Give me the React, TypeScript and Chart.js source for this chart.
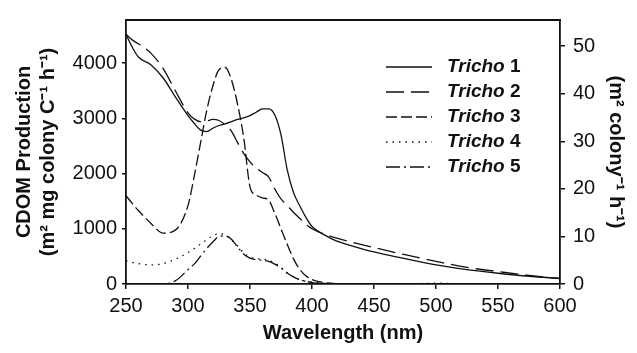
import React, { useEffect, useRef } from "react";
import { Chart, registerables } from "chart.js";

Chart.register(...registerables);

const wavelengths = [250, 255, 260, 270, 280, 290, 300, 305, 310, 315, 320, 325, 330, 335, 340, 345, 350, 355, 360, 365, 370, 375, 380, 385, 390, 395, 400, 410, 420, 430, 450, 475, 500, 525, 550, 575, 600];

const tricho1 = [4520, 4290, 4110, 3970, 3730, 3380, 3050, 2910, 2790, 2760, 2820, 2870, 2900, 2940, 2980, 3010, 3050, 3110, 3170, 3170, 3060, 2700, 2070, 1660, 1420, 1210, 1040, 890, 775, 705, 580, 460, 345, 260, 195, 140, 100];
const tricho2 = [4520, 4420, 4350, 4180, 3900, 3490, 3100, 2990, 2940, 2950, 2980, 2960, 2880, 2770, 2560, 2360, 2210, 2100, 2020, 1940, 1720, 1540, 1420, 1300, 1190, 1080, 1000, 900, 830, 770, 660, 530, 410, 300, 225, 155, 100];
const tricho3 = [1600, 1460, 1330, 1100, 920, 980, 1420, 1950, 2540, 3130, 3580, 3880, 3920, 3700, 3250, 2640, 1760, 1610, 1560, 1520, 1280, 1000, 720, 460, 270, 150, 80, 25, 5, 0, 0, 0, 0, 0, 0, 0, 0];
const tricho4 = [420, 390, 370, 345, 370, 450, 570, 640, 720, 800, 870, 910, 890, 800, 690, 560, 490, 460, 450, 430, 380, 300, 200, 130, 80, 50, 35, 15, 5, 0, 0, 0, 15, 0, 0, 0, 0];
const tricho5 = [0, 0, 0, 0, 0, 60, 260, 360, 500, 640, 760, 860, 870, 810, 670, 540, 470, 440, 430, 410, 360, 290, 200, 130, 80, 50, 25, 10, 0, 0, 0, 0, 0, 0, 0, 0, 0];

const seriesNames = ["1", "2", "3", "4", "5"];
const seriesValues = [tricho1, tricho2, tricho3, tricho4, tricho5];
const dashes: number[][] = [[], [18, 7], [11, 4], [1.5, 5], [14, 4, 2, 4]];

const leftTicks = [0, 1000, 2000, 3000, 4000];
const rightTicks = [0, 10, 20, 30, 40, 50];
const xTicks = [250, 300, 350, 400, 450, 500, 550, 600];

const FONT = "'Liberation Sans', Arial, Helvetica, sans-serif";
const INK = "#111";

const frameAndLegend = {
  id: "frameAndLegend",
  afterDatasetsDraw(chart: any) {
    const { ctx, chartArea } = chart;
    ctx.save();
    ctx.strokeStyle = INK;
    ctx.lineWidth = 1.8;
    ctx.beginPath();
    ctx.moveTo(chartArea.left - 0.9, chartArea.top);
    ctx.lineTo(chartArea.right + 0.9, chartArea.top);
    ctx.stroke();

    const x0 = 386;
    const x1 = 432;
    const tx = 447;
    seriesNames.forEach((n, i) => {
      const y = 67 + i * 25;
      ctx.setLineDash(dashes[i]);
      ctx.lineWidth = 1.3;
      ctx.beginPath();
      ctx.moveTo(x0, y);
      ctx.lineTo(x1, y);
      ctx.stroke();
      ctx.setLineDash([]);
      ctx.fillStyle = INK;
      ctx.textBaseline = "middle";
      ctx.textAlign = "left";
      ctx.font = `italic bold 19px ${FONT}`;
      ctx.fillText("Tricho", tx, y);
      const w = ctx.measureText("Tricho ").width;
      ctx.font = `bold 19px ${FONT}`;
      ctx.fillText(n, tx + w, y);
    });
    ctx.restore();
  },
};

const plain = (v: any) => String(v);

export default function App() {
  const ref = useRef<HTMLCanvasElement | null>(null);

  useEffect(() => {
    document.body.style.margin = "0";
    const canvas = ref.current;
    if (!canvas) return;
    const chart = new Chart(canvas, {
      type: "line",
      data: {
        datasets: seriesValues.map((vals, i) => ({
          label: "Tricho " + seriesNames[i],
          data: wavelengths.map((w, j) => ({ x: w, y: vals[j] })),
          borderColor: INK,
          borderWidth: 1.3,
          borderDash: dashes[i],
          pointRadius: 0,
          fill: false,
          cubicInterpolationMode: "monotone" as const,
          yAxisID: "y",
        })),
      },
      options: {
        animation: false,
        responsive: false,
        events: [],
        layout: { padding: { top: 12, left: 0, right: 0, bottom: 0 } },
        plugins: { legend: { display: false }, tooltip: { enabled: false } },
        scales: {
          x: {
            type: "linear",
            min: 250,
            max: 600,
            afterFit: (s: any) => { s.height = 69; },
            afterBuildTicks: (s: any) => { s.ticks = xTicks.map((v) => ({ value: v })); },
            ticks: { color: INK, font: { size: 20, family: FONT }, padding: 5, maxRotation: 0, callback: plain },
            grid: { drawOnChartArea: false, drawTicks: true, tickLength: 5, color: INK, lineWidth: 1.5 },
            border: { color: INK, width: 1.8 },
            title: { display: true, text: "Wavelength (nm)", color: INK, font: { size: 20, weight: "bold", family: FONT }, padding: { top: 0, bottom: 8 } },
          },
          y: {
            type: "linear",
            position: "left",
            min: 0,
            max: 4780,
            afterFit: (s: any) => { s.width = 126; },
            afterBuildTicks: (s: any) => { s.ticks = leftTicks.map((v) => ({ value: v })); },
            ticks: { color: INK, font: { size: 20, family: FONT }, padding: 5, callback: plain },
            grid: { drawOnChartArea: false, drawTicks: true, tickLength: 4, color: INK, lineWidth: 1.5 },
            border: { color: INK, width: 1.8 },
            title: { display: true, text: ["CDOM Production", "(m\u00B2 mg colony C\u207B\u00B9 h\u207B\u00B9)"], color: INK, font: { size: 20, weight: "bold", family: FONT }, padding: { top: 12, bottom: 0 } },
          },
          y2: {
            type: "linear",
            position: "right",
            display: true,
            min: 0,
            max: 55.5,
            afterFit: (s: any) => { s.width = 77; },
            afterBuildTicks: (s: any) => { s.ticks = rightTicks.map((v) => ({ value: v })); },
            ticks: { color: INK, font: { size: 20, family: FONT }, padding: 8, callback: plain },
            grid: { drawOnChartArea: false, drawTicks: true, tickLength: 5, color: INK, lineWidth: 1.5 },
            border: { color: INK, width: 1.8 },
            title: { display: true, text: "(m\u00B2 colony\u207B\u00B9 h\u207B\u00B9)", color: INK, font: { size: 20, weight: "bold", family: FONT }, padding: { top: 9, bottom: 0 } },
          },
        },
      },
      plugins: [frameAndLegend],
    } as any);
    return () => chart.destroy();
  }, []);

  return (
    <div style={{ width: 637, height: 353 }}>
      <canvas ref={ref} width={637} height={353} style={{ display: "block" }} />
    </div>
  );
}
